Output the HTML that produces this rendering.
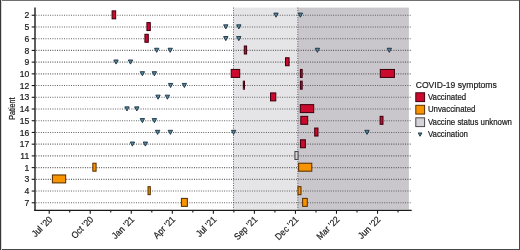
<!DOCTYPE html>
<html><head><meta charset="utf-8"><style>
html,body{margin:0;padding:0;background:#fff;}
body{width:520px;height:250px;overflow:hidden;position:relative;}
svg text{font-family:"Liberation Sans",sans-serif;stroke:#1a1a1a;stroke-width:0.2px;}
svg{will-change:transform;}
</style></head><body>
<svg width="520" height="250" viewBox="0 0 520 250" style="position:absolute;left:0;top:0">
<rect x="233.5" y="7.6" width="64.30000000000001" height="201.9" fill="#e5e5e7"/>
<rect x="297.8" y="7.6" width="111.09999999999997" height="201.9" fill="#c9c6cc"/>
<line x1="36.2" y1="15.25" x2="411.7" y2="15.25" stroke="#5c5c5c" stroke-width="1.1" stroke-dasharray="0.95 1.37"/>
<line x1="36.2" y1="26.97" x2="411.7" y2="26.97" stroke="#5c5c5c" stroke-width="1.1" stroke-dasharray="0.95 1.37"/>
<line x1="36.2" y1="38.69" x2="411.7" y2="38.69" stroke="#5c5c5c" stroke-width="1.1" stroke-dasharray="0.95 1.37"/>
<line x1="36.2" y1="50.41" x2="411.7" y2="50.41" stroke="#5c5c5c" stroke-width="1.1" stroke-dasharray="0.95 1.37"/>
<line x1="36.2" y1="62.13" x2="411.7" y2="62.13" stroke="#5c5c5c" stroke-width="1.1" stroke-dasharray="0.95 1.37"/>
<line x1="36.2" y1="73.85" x2="411.7" y2="73.85" stroke="#5c5c5c" stroke-width="1.1" stroke-dasharray="0.95 1.37"/>
<line x1="36.2" y1="85.57" x2="411.7" y2="85.57" stroke="#5c5c5c" stroke-width="1.1" stroke-dasharray="0.95 1.37"/>
<line x1="36.2" y1="97.29" x2="411.7" y2="97.29" stroke="#5c5c5c" stroke-width="1.1" stroke-dasharray="0.95 1.37"/>
<line x1="36.2" y1="109.01" x2="411.7" y2="109.01" stroke="#5c5c5c" stroke-width="1.1" stroke-dasharray="0.95 1.37"/>
<line x1="36.2" y1="120.73" x2="411.7" y2="120.73" stroke="#5c5c5c" stroke-width="1.1" stroke-dasharray="0.95 1.37"/>
<line x1="36.2" y1="132.45" x2="411.7" y2="132.45" stroke="#5c5c5c" stroke-width="1.1" stroke-dasharray="0.95 1.37"/>
<line x1="36.2" y1="144.17" x2="411.7" y2="144.17" stroke="#5c5c5c" stroke-width="1.1" stroke-dasharray="0.95 1.37"/>
<line x1="36.2" y1="155.89" x2="411.7" y2="155.89" stroke="#5c5c5c" stroke-width="1.1" stroke-dasharray="0.95 1.37"/>
<line x1="36.2" y1="167.61" x2="411.7" y2="167.61" stroke="#5c5c5c" stroke-width="1.1" stroke-dasharray="0.95 1.37"/>
<line x1="36.2" y1="179.33" x2="411.7" y2="179.33" stroke="#5c5c5c" stroke-width="1.1" stroke-dasharray="0.95 1.37"/>
<line x1="36.2" y1="191.05" x2="411.7" y2="191.05" stroke="#5c5c5c" stroke-width="1.1" stroke-dasharray="0.95 1.37"/>
<line x1="36.2" y1="202.77" x2="411.7" y2="202.77" stroke="#5c5c5c" stroke-width="1.1" stroke-dasharray="0.95 1.37"/>
<line x1="233.5" y1="7.6" x2="233.5" y2="209.6" stroke="#4a4a4a" stroke-width="0.9" stroke-dasharray="1.0 1.4"/>
<line x1="297.8" y1="7.6" x2="297.8" y2="209.6" stroke="#4a4a4a" stroke-width="0.9" stroke-dasharray="1.0 1.4"/>
<rect x="112.12" y="10.88" width="3.55" height="7.95" fill="#cc0a2e" stroke="#40000f" stroke-width="1.05"/>
<rect x="146.93" y="22.59" width="3.35" height="7.95" fill="#cc0a2e" stroke="#40000f" stroke-width="1.05"/>
<rect x="144.93" y="34.31" width="3.35" height="7.95" fill="#cc0a2e" stroke="#40000f" stroke-width="1.05"/>
<rect x="244.33" y="46.04" width="2.25" height="7.95" fill="#cc0a2e" stroke="#40000f" stroke-width="1.05"/>
<rect x="285.52" y="57.76" width="3.55" height="7.95" fill="#cc0a2e" stroke="#40000f" stroke-width="1.05"/>
<rect x="231.22" y="69.47" width="8.45" height="7.95" fill="#cc0a2e" stroke="#40000f" stroke-width="1.05"/>
<rect x="300.42" y="69.47" width="1.75" height="7.95" fill="#cc0a2e" stroke="#40000f" stroke-width="1.05"/>
<rect x="380.32" y="69.47" width="14.15" height="7.95" fill="#cc0a2e" stroke="#40000f" stroke-width="1.05"/>
<rect x="243.33" y="81.20" width="1.15" height="7.95" fill="#cc0a2e" stroke="#40000f" stroke-width="1.05"/>
<rect x="300.42" y="81.20" width="1.75" height="7.95" fill="#cc0a2e" stroke="#40000f" stroke-width="1.05"/>
<rect x="270.52" y="92.92" width="5.25" height="7.95" fill="#cc0a2e" stroke="#40000f" stroke-width="1.05"/>
<rect x="300.32" y="104.64" width="13.35" height="7.95" fill="#cc0a2e" stroke="#40000f" stroke-width="1.05"/>
<rect x="300.82" y="116.36" width="6.85" height="7.95" fill="#cc0a2e" stroke="#40000f" stroke-width="1.05"/>
<rect x="380.12" y="116.36" width="2.85" height="7.95" fill="#cc0a2e" stroke="#40000f" stroke-width="1.05"/>
<rect x="314.72" y="128.07" width="3.25" height="7.95" fill="#cc0a2e" stroke="#40000f" stroke-width="1.05"/>
<rect x="300.52" y="139.80" width="4.85" height="7.95" fill="#cc0a2e" stroke="#40000f" stroke-width="1.05"/>
<rect x="294.92" y="151.52" width="3.15" height="7.95" fill="#d5d2d9" stroke="#4a4a4a" stroke-width="1.05"/>
<rect x="92.83" y="163.24" width="3.25" height="7.95" fill="#f79400" stroke="#5a3000" stroke-width="1.05"/>
<rect x="298.62" y="163.24" width="13.15" height="7.95" fill="#f79400" stroke="#5a3000" stroke-width="1.05"/>
<rect x="52.42" y="174.96" width="13.25" height="7.95" fill="#f79400" stroke="#5a3000" stroke-width="1.05"/>
<rect x="148.03" y="186.68" width="2.25" height="7.95" fill="#f79400" stroke="#5a3000" stroke-width="1.05"/>
<rect x="298.02" y="186.68" width="2.95" height="7.95" fill="#f79400" stroke="#5a3000" stroke-width="1.05"/>
<rect x="181.43" y="198.40" width="5.95" height="7.95" fill="#f79400" stroke="#5a3000" stroke-width="1.05"/>
<rect x="302.62" y="198.40" width="4.65" height="7.95" fill="#f79400" stroke="#5a3000" stroke-width="1.05"/>
<path d="M273.80,13.10 L278.20,13.10 L276.00,17.20 Z" fill="#5589a0" stroke="#1c3040" stroke-width="0.9" stroke-linejoin="miter"/>
<path d="M298.20,13.10 L302.60,13.10 L300.40,17.20 Z" fill="#5589a0" stroke="#1c3040" stroke-width="0.9" stroke-linejoin="miter"/>
<path d="M223.60,24.82 L228.00,24.82 L225.80,28.92 Z" fill="#5589a0" stroke="#1c3040" stroke-width="0.9" stroke-linejoin="miter"/>
<path d="M236.60,24.82 L241.00,24.82 L238.80,28.92 Z" fill="#5589a0" stroke="#1c3040" stroke-width="0.9" stroke-linejoin="miter"/>
<path d="M223.60,36.54 L228.00,36.54 L225.80,40.64 Z" fill="#5589a0" stroke="#1c3040" stroke-width="0.9" stroke-linejoin="miter"/>
<path d="M236.60,36.54 L241.00,36.54 L238.80,40.64 Z" fill="#5589a0" stroke="#1c3040" stroke-width="0.9" stroke-linejoin="miter"/>
<path d="M154.50,48.26 L158.90,48.26 L156.70,52.36 Z" fill="#5589a0" stroke="#1c3040" stroke-width="0.9" stroke-linejoin="miter"/>
<path d="M168.00,48.26 L172.40,48.26 L170.20,52.36 Z" fill="#5589a0" stroke="#1c3040" stroke-width="0.9" stroke-linejoin="miter"/>
<path d="M315.20,48.26 L319.60,48.26 L317.40,52.36 Z" fill="#5589a0" stroke="#1c3040" stroke-width="0.9" stroke-linejoin="miter"/>
<path d="M387.10,48.26 L391.50,48.26 L389.30,52.36 Z" fill="#5589a0" stroke="#1c3040" stroke-width="0.9" stroke-linejoin="miter"/>
<path d="M113.80,59.98 L118.20,59.98 L116.00,64.08 Z" fill="#5589a0" stroke="#1c3040" stroke-width="0.9" stroke-linejoin="miter"/>
<path d="M128.30,59.98 L132.70,59.98 L130.50,64.08 Z" fill="#5589a0" stroke="#1c3040" stroke-width="0.9" stroke-linejoin="miter"/>
<path d="M140.20,71.70 L144.60,71.70 L142.40,75.80 Z" fill="#5589a0" stroke="#1c3040" stroke-width="0.9" stroke-linejoin="miter"/>
<path d="M152.20,71.70 L156.60,71.70 L154.40,75.80 Z" fill="#5589a0" stroke="#1c3040" stroke-width="0.9" stroke-linejoin="miter"/>
<path d="M168.40,83.42 L172.80,83.42 L170.60,87.52 Z" fill="#5589a0" stroke="#1c3040" stroke-width="0.9" stroke-linejoin="miter"/>
<path d="M182.20,83.42 L186.60,83.42 L184.40,87.52 Z" fill="#5589a0" stroke="#1c3040" stroke-width="0.9" stroke-linejoin="miter"/>
<path d="M155.80,95.14 L160.20,95.14 L158.00,99.24 Z" fill="#5589a0" stroke="#1c3040" stroke-width="0.9" stroke-linejoin="miter"/>
<path d="M165.20,95.14 L169.60,95.14 L167.40,99.24 Z" fill="#5589a0" stroke="#1c3040" stroke-width="0.9" stroke-linejoin="miter"/>
<path d="M124.80,106.86 L129.20,106.86 L127.00,110.96 Z" fill="#5589a0" stroke="#1c3040" stroke-width="0.9" stroke-linejoin="miter"/>
<path d="M134.60,106.86 L139.00,106.86 L136.80,110.96 Z" fill="#5589a0" stroke="#1c3040" stroke-width="0.9" stroke-linejoin="miter"/>
<path d="M140.20,118.58 L144.60,118.58 L142.40,122.68 Z" fill="#5589a0" stroke="#1c3040" stroke-width="0.9" stroke-linejoin="miter"/>
<path d="M152.20,118.58 L156.60,118.58 L154.40,122.68 Z" fill="#5589a0" stroke="#1c3040" stroke-width="0.9" stroke-linejoin="miter"/>
<path d="M155.40,130.30 L159.80,130.30 L157.60,134.40 Z" fill="#5589a0" stroke="#1c3040" stroke-width="0.9" stroke-linejoin="miter"/>
<path d="M168.20,130.30 L172.60,130.30 L170.40,134.40 Z" fill="#5589a0" stroke="#1c3040" stroke-width="0.9" stroke-linejoin="miter"/>
<path d="M231.40,130.30 L235.80,130.30 L233.60,134.40 Z" fill="#5589a0" stroke="#1c3040" stroke-width="0.9" stroke-linejoin="miter"/>
<path d="M364.80,130.30 L369.20,130.30 L367.00,134.40 Z" fill="#5589a0" stroke="#1c3040" stroke-width="0.9" stroke-linejoin="miter"/>
<path d="M130.20,142.02 L134.60,142.02 L132.40,146.12 Z" fill="#5589a0" stroke="#1c3040" stroke-width="0.9" stroke-linejoin="miter"/>
<path d="M143.20,142.02 L147.60,142.02 L145.40,146.12 Z" fill="#5589a0" stroke="#1c3040" stroke-width="0.9" stroke-linejoin="miter"/>
<line x1="35.0" y1="7.6" x2="35.0" y2="211.1" stroke="#1a1a1a" stroke-width="1.4"/>
<line x1="34.3" y1="210.4" x2="411.7" y2="210.4" stroke="#1a1a1a" stroke-width="1.4"/>
<line x1="31.7" y1="15.25" x2="35.0" y2="15.25" stroke="#1a1a1a" stroke-width="1.1"/>
<text x="29.2" y="18.35" text-anchor="end" font-size="8.6" fill="#1a1a1a">2</text>
<line x1="31.7" y1="26.97" x2="35.0" y2="26.97" stroke="#1a1a1a" stroke-width="1.1"/>
<text x="29.2" y="30.07" text-anchor="end" font-size="8.6" fill="#1a1a1a">5</text>
<line x1="31.7" y1="38.69" x2="35.0" y2="38.69" stroke="#1a1a1a" stroke-width="1.1"/>
<text x="29.2" y="41.79" text-anchor="end" font-size="8.6" fill="#1a1a1a">6</text>
<line x1="31.7" y1="50.41" x2="35.0" y2="50.41" stroke="#1a1a1a" stroke-width="1.1"/>
<text x="29.2" y="53.51" text-anchor="end" font-size="8.6" fill="#1a1a1a">8</text>
<line x1="31.7" y1="62.13" x2="35.0" y2="62.13" stroke="#1a1a1a" stroke-width="1.1"/>
<text x="29.2" y="65.23" text-anchor="end" font-size="8.6" fill="#1a1a1a">9</text>
<line x1="31.7" y1="73.85" x2="35.0" y2="73.85" stroke="#1a1a1a" stroke-width="1.1"/>
<text x="29.2" y="76.95" text-anchor="end" font-size="8.6" fill="#1a1a1a">10</text>
<line x1="31.7" y1="85.57" x2="35.0" y2="85.57" stroke="#1a1a1a" stroke-width="1.1"/>
<text x="29.2" y="88.67" text-anchor="end" font-size="8.6" fill="#1a1a1a">12</text>
<line x1="31.7" y1="97.29" x2="35.0" y2="97.29" stroke="#1a1a1a" stroke-width="1.1"/>
<text x="29.2" y="100.39" text-anchor="end" font-size="8.6" fill="#1a1a1a">13</text>
<line x1="31.7" y1="109.01" x2="35.0" y2="109.01" stroke="#1a1a1a" stroke-width="1.1"/>
<text x="29.2" y="112.11" text-anchor="end" font-size="8.6" fill="#1a1a1a">14</text>
<line x1="31.7" y1="120.73" x2="35.0" y2="120.73" stroke="#1a1a1a" stroke-width="1.1"/>
<text x="29.2" y="123.83" text-anchor="end" font-size="8.6" fill="#1a1a1a">15</text>
<line x1="31.7" y1="132.45" x2="35.0" y2="132.45" stroke="#1a1a1a" stroke-width="1.1"/>
<text x="29.2" y="135.55" text-anchor="end" font-size="8.6" fill="#1a1a1a">16</text>
<line x1="31.7" y1="144.17" x2="35.0" y2="144.17" stroke="#1a1a1a" stroke-width="1.1"/>
<text x="29.2" y="147.27" text-anchor="end" font-size="8.6" fill="#1a1a1a">17</text>
<line x1="31.7" y1="155.89" x2="35.0" y2="155.89" stroke="#1a1a1a" stroke-width="1.1"/>
<text x="29.2" y="158.99" text-anchor="end" font-size="8.6" fill="#1a1a1a">11</text>
<line x1="31.7" y1="167.61" x2="35.0" y2="167.61" stroke="#1a1a1a" stroke-width="1.1"/>
<text x="29.2" y="170.71" text-anchor="end" font-size="8.6" fill="#1a1a1a">1</text>
<line x1="31.7" y1="179.33" x2="35.0" y2="179.33" stroke="#1a1a1a" stroke-width="1.1"/>
<text x="29.2" y="182.43" text-anchor="end" font-size="8.6" fill="#1a1a1a">3</text>
<line x1="31.7" y1="191.05" x2="35.0" y2="191.05" stroke="#1a1a1a" stroke-width="1.1"/>
<text x="29.2" y="194.15" text-anchor="end" font-size="8.6" fill="#1a1a1a">4</text>
<line x1="31.7" y1="202.77" x2="35.0" y2="202.77" stroke="#1a1a1a" stroke-width="1.1"/>
<text x="29.2" y="205.87" text-anchor="end" font-size="8.6" fill="#1a1a1a">7</text>
<line x1="49.20" y1="210.4" x2="49.20" y2="213.8" stroke="#1a1a1a" stroke-width="1.1"/>
<text transform="translate(52.80,220.20) rotate(-45) scale(0.92,1)" text-anchor="end" font-size="9.2" fill="#1a1a1a">Jul ’20</text>
<line x1="69.72" y1="210.4" x2="69.72" y2="212.4" stroke="#1a1a1a" stroke-width="1.1"/>
<line x1="90.24" y1="210.4" x2="90.24" y2="213.8" stroke="#1a1a1a" stroke-width="1.1"/>
<text transform="translate(93.84,220.20) rotate(-45) scale(0.92,1)" text-anchor="end" font-size="9.2" fill="#1a1a1a">Oct ’20</text>
<line x1="110.76" y1="210.4" x2="110.76" y2="212.4" stroke="#1a1a1a" stroke-width="1.1"/>
<line x1="131.28" y1="210.4" x2="131.28" y2="213.8" stroke="#1a1a1a" stroke-width="1.1"/>
<text transform="translate(134.88,220.20) rotate(-45) scale(0.92,1)" text-anchor="end" font-size="9.2" fill="#1a1a1a">Jan ’21</text>
<line x1="151.80" y1="210.4" x2="151.80" y2="212.4" stroke="#1a1a1a" stroke-width="1.1"/>
<line x1="172.32" y1="210.4" x2="172.32" y2="213.8" stroke="#1a1a1a" stroke-width="1.1"/>
<text transform="translate(175.92,220.20) rotate(-45) scale(0.92,1)" text-anchor="end" font-size="9.2" fill="#1a1a1a">Apr ’21</text>
<line x1="192.84" y1="210.4" x2="192.84" y2="212.4" stroke="#1a1a1a" stroke-width="1.1"/>
<line x1="213.36" y1="210.4" x2="213.36" y2="213.8" stroke="#1a1a1a" stroke-width="1.1"/>
<text transform="translate(216.96,220.20) rotate(-45) scale(0.92,1)" text-anchor="end" font-size="9.2" fill="#1a1a1a">Jul ’21</text>
<line x1="233.88" y1="210.4" x2="233.88" y2="212.4" stroke="#1a1a1a" stroke-width="1.1"/>
<line x1="254.40" y1="210.4" x2="254.40" y2="213.8" stroke="#1a1a1a" stroke-width="1.1"/>
<text transform="translate(258.00,220.20) rotate(-45) scale(0.92,1)" text-anchor="end" font-size="9.2" fill="#1a1a1a">Sep ’21</text>
<line x1="274.92" y1="210.4" x2="274.92" y2="212.4" stroke="#1a1a1a" stroke-width="1.1"/>
<line x1="295.44" y1="210.4" x2="295.44" y2="213.8" stroke="#1a1a1a" stroke-width="1.1"/>
<text transform="translate(299.04,220.20) rotate(-45) scale(0.92,1)" text-anchor="end" font-size="9.2" fill="#1a1a1a">Dec ’21</text>
<line x1="315.96" y1="210.4" x2="315.96" y2="212.4" stroke="#1a1a1a" stroke-width="1.1"/>
<line x1="336.48" y1="210.4" x2="336.48" y2="213.8" stroke="#1a1a1a" stroke-width="1.1"/>
<text transform="translate(340.08,220.20) rotate(-45) scale(0.92,1)" text-anchor="end" font-size="9.2" fill="#1a1a1a">Mar ’22</text>
<line x1="357.00" y1="210.4" x2="357.00" y2="212.4" stroke="#1a1a1a" stroke-width="1.1"/>
<line x1="377.52" y1="210.4" x2="377.52" y2="213.8" stroke="#1a1a1a" stroke-width="1.1"/>
<text transform="translate(381.12,220.20) rotate(-45) scale(0.92,1)" text-anchor="end" font-size="9.2" fill="#1a1a1a">Jun ’22</text>
<line x1="398.04" y1="210.4" x2="398.04" y2="212.4" stroke="#1a1a1a" stroke-width="1.1"/>
<text transform="translate(14.8,108.7) rotate(-90) scale(0.87,1)" text-anchor="middle" font-size="8.2" fill="#1a1a1a">Patient</text>
<text transform="translate(415.7,87.6) scale(0.935,1)" font-size="9.2" fill="#1a1a1a">COVID-19 symptoms</text>
<rect x="415.8" y="92.80" width="8.8" height="8.8" fill="#cc0a2e" stroke="#40000f" stroke-width="1"/>
<text transform="translate(427.9,99.60) scale(0.925,1)" font-size="8.5" fill="#1a1a1a">Vaccinated</text>
<rect x="415.8" y="105.30" width="8.8" height="8.8" fill="#f79400" stroke="#5a3000" stroke-width="1"/>
<text transform="translate(427.9,112.10) scale(0.925,1)" font-size="8.5" fill="#1a1a1a">Unvaccinated</text>
<rect x="415.8" y="117.80" width="8.8" height="8.8" fill="#d5d2d9" stroke="#4a4a4a" stroke-width="1"/>
<text transform="translate(427.9,124.60) scale(0.925,1)" font-size="8.5" fill="#1a1a1a">Vaccine status unknown</text>
<path d="M418.25,132.95 L421.95,132.95 L420.10,136.25 Z" fill="#5589a0" stroke="#1c3040" stroke-width="0.9" stroke-linejoin="miter"/>
<text transform="translate(427.9,137.10) scale(0.925,1)" font-size="8.5" fill="#1a1a1a">Vaccination</text>
<rect x="0" y="0" width="520" height="1" fill="#707070"/>
<rect x="0" y="249" width="520" height="1" fill="#484848"/>
<rect x="0" y="0" width="1" height="250" fill="#383838"/>
<rect x="1" y="0" width="1" height="250" fill="#d8d8d8"/>
<rect x="519" y="0" width="1" height="250" fill="#484848"/>
</svg>
</body></html>
